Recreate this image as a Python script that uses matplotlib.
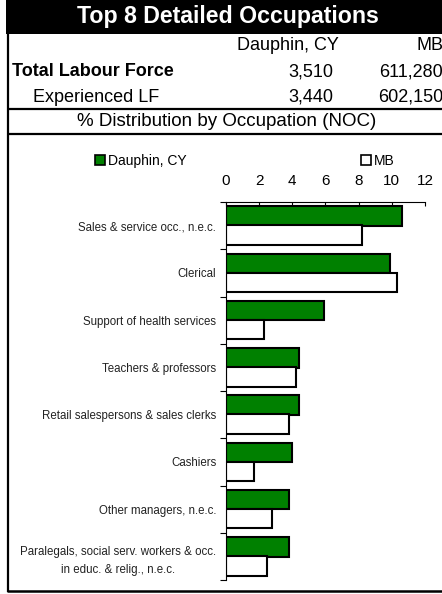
import numpy as np
import matplotlib
matplotlib.use("Agg")
from matplotlib import pyplot as plt
from matplotlib.patches import Rectangle, Patch

plt.rcParams['font.family'] = ['Liberation Sans', 'DejaVu Sans']

# Chart data
title = "Top 8 Detailed Occupations"
regions = ["Dauphin, CY", "MB"]
total_lf = ["3,510", "611,280"]
experienced_lf = ["3,440", "602,150"]
occupations = [
    "Sales & service occ., n.e.c.",
    "Clerical",
    "Support of health services",
    "Teachers & professors",
    "Retail salespersons & sales clerks",
    "Cashiers",
    "Other managers, n.e.c.",
    "Paralegals, social serv. workers & occ.\nin educ. & relig., n.e.c.",
]
dauphin = [10.6, 9.9, 5.9, 4.4, 4.4, 4.0, 3.8, 3.8]
mb = [8.2, 10.3, 2.3, 4.2, 3.8, 1.7, 2.8, 2.5]
xticks = [0, 2, 4, 6, 8, 10, 12]

W, H = 442, 594
fig = plt.figure(figsize=(W / 100, H / 100), dpi=100)

# overlay in pixel coordinates for the table frame
deco = fig.add_axes([0, 0, 1, 1])
deco.set_xlim(0, W)
deco.set_ylim(H, 0)
deco.axis("off")

deco.add_patch(Rectangle((6, 0), W - 6, 34, facecolor="black", edgecolor="none"))
deco.text(228, 17, title, color="white", fontsize=16.7, fontweight="bold",
          ha="center", va="center")
deco.plot([8, 8], [34, 592], color="black", lw=1.6, solid_capstyle="butt")
for yy in (108.5, 134):
    deco.plot([7, W], [yy, yy], color="black", lw=1.6, solid_capstyle="butt")
deco.plot([7, W], [591, 591], color="black", lw=1.8, solid_capstyle="butt")

col_x = [339, 443]
for x, name in zip(col_x, regions):
    deco.text(x, 46, name, fontsize=13, ha="right", va="center")
deco.text(12, 72, "Total Labour Force", fontsize=13, fontweight="bold",
          ha="left", va="center")
deco.text(33, 97, "Experienced LF", fontsize=13, ha="left", va="center")
for x, a, b in zip([333, 443], total_lf, experienced_lf):
    deco.text(x, 72, a, fontsize=13, ha="right", va="center")
    deco.text(x, 97, b, fontsize=13, ha="right", va="center")
deco.text(227, 122, "% Distribution by Occupation (NOC)", fontsize=13.5,
          ha="center", va="center")

# bar chart
ax = fig.add_axes([226 / W, 1 - 580 / H, (425 - 226) / W, (580 - 202) / H])
y = np.arange(len(occupations))
h = 0.41
ax.barh(y - 0.2, dauphin, height=h, color="#008000", edgecolor="black",
        linewidth=1.5, label=regions[0])
ax.barh(y + 0.2, mb, height=h, color="white", edgecolor="black",
        linewidth=1.5, label=regions[1])
ax.set_xlim(0, 12)
ax.set_ylim(len(occupations) - 0.5, -0.5)
ax.set_xticks(xticks)
ax.xaxis.tick_top()
ax.tick_params(axis="x", direction="in", length=3, pad=10, labelsize=11,
               width=0.8, colors="#000000")
ax.set_yticks(y)
ax.set_yticklabels(occupations, fontsize=8.3, color="#222222",
                   multialignment="center", linespacing=1.7)
ax.set_yticks(np.arange(len(occupations) + 1) - 0.5, minor=True)
ax.tick_params(axis="y", which="major", length=0, pad=7)
ax.tick_params(axis="y", which="minor", length=4, width=0.8)
for s in ("right", "bottom"):
    ax.spines[s].set_visible(False)
for s in ("top", "left"):
    ax.spines[s].set_linewidth(0.8)

handles = [Patch(facecolor="#008000", edgecolor="black", linewidth=1.2),
           Patch(facecolor="white", edgecolor="black", linewidth=1.2)]
leg = fig.legend(handles, regions, loc="center left",
                 bbox_to_anchor=(95 / W, 1 - 161 / H), ncol=2, frameon=False,
                 fontsize=10, handlelength=0.7, handleheight=0.7,
                 handletextpad=0.2, columnspacing=12.6, borderpad=0,
                 borderaxespad=0)

fig.savefig("out.png", dpi=100)
